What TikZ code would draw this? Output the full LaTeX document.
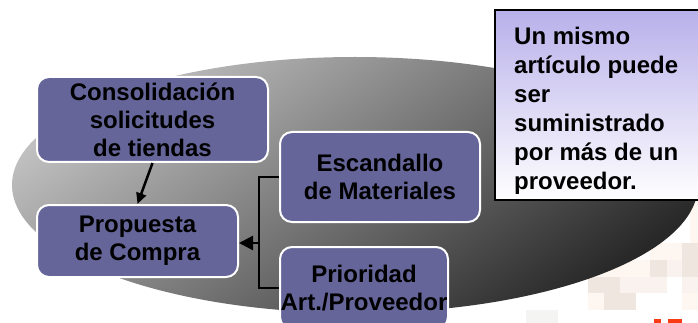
\documentclass[tikz,border=0pt]{standalone}
\usepackage{fontspec}
\setmainfont{Liberation Sans}
\usetikzlibrary{arrows.meta,shapes.geometric}
\definecolor{boxfill}{RGB}{101,101,154}
\definecolor{lav}{RGB}{184,176,234}
\definecolor{ellA}{RGB}{192,192,192}
\definecolor{ellB}{RGB}{40,40,40}
\definecolor{pxA}{RGB}{254,246,240}
\definecolor{pxB}{RGB}{240,230,224}
\definecolor{pxC}{RGB}{250,242,238}
\definecolor{pxD}{RGB}{244,244,242}
\definecolor{redfrag}{RGB}{250,60,20}
\begin{document}
\begin{tikzpicture}[x=1pt,y=-1pt,
  box/.style={draw=white, line width=2pt, fill=boxfill, rounded corners=12pt,
    align=center, font=\fontsize{24}{28}\selectfont\bfseries, inner sep=0pt},
  conn/.style={line width=2.5pt, draw=black},
  px/.style={draw=none}]
\useasboundingbox (0,0) rectangle (698,323);
\clip (0,0) rectangle (698,323);
% faint pixelated background
\fill[pxA] (690,200) rectangle (698,243);
\fill[pxA] (650,243) rectangle (682,260);
\fill[pxB] (682,243) rectangle (698,260);
\fill[pxA] (585,260) rectangle (650,277);
\fill[pxB] (650,260) rectangle (667,277);
\fill[pxC] (667,260) rectangle (682,277);
\fill[pxB] (682,260) rectangle (698,277);
\fill[pxB] (588,277) rectangle (620,293);
\fill[pxC] (620,277) rectangle (667,293);
\fill[pxC] (682,277) rectangle (698,293);
\fill[pxA] (588,293) rectangle (604,310);
\fill[pxB] (604,293) rectangle (636,310);
\fill[pxA] (682,293) rectangle (698,310);
\fill[pxD] (526,310) rectangle (558,323);
\fill[redfrag] (654,319) rectangle (661,323);
\fill[redfrag] (668,319) rectangle (682,323);
% grey ellipse
\shade[top color=ellA, bottom color=ellB, shading angle=35]
  (355,185) ellipse [x radius=343, y radius=128];
% boxes
\node[box, minimum width=231pt, minimum height=85pt] (cons) at (152.5,119.5)
  {Consolidación\\solicitudes\\de tiendas};
\node[box, minimum width=201pt, minimum height=72pt] (prop) at (137.5,241)
  {Propuesta\\de Compra};
\node[box, minimum width=200pt, minimum height=90pt] (esc) at (380,177)
  {Escandallo\\de Materiales};
\node[box, minimum width=168pt, minimum height=82pt] (pri) at (364,288)
  {Prioridad\\Art./Proveedor};
% note
\node[draw=black, line width=2.5pt, top color=lav, bottom color=white,
  minimum width=216pt, minimum height=190pt, inner sep=0pt] (note) at (603,105) {};
\node[anchor=north west, inner sep=0pt, align=left,
  font=\fontsize{24}{29}\selectfont\bfseries] (notetext) at (514,27)
  {Un mismo\\artículo puede\\ser\\suministrado\\por más de un\\proveedor.};
% connectors
\draw[conn, -{Triangle[length=11pt,width=10pt]}] (cons.south) -- (prop.north);
\coordinate (brk) at (259,243);
\draw[conn] (esc.west) -| (brk) |- (pri.west);
\draw[conn, -{Triangle[length=14pt,width=14pt]}] (brk) -- (prop.east |- brk);
\end{tikzpicture}
\end{document}
